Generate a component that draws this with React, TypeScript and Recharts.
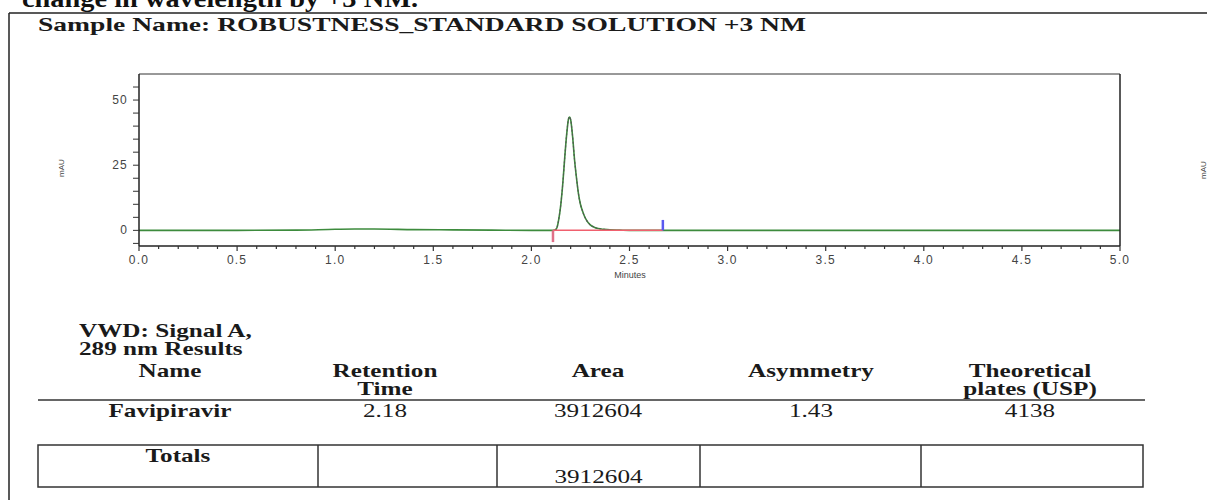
import { ComposedChart, Line, XAxis, YAxis, ReferenceLine } from 'recharts';

const headingTail = 'change in wavelength by +3 NM.';
const sampleTitle = 'Sample Name: ROBUSTNESS_STANDARD SOLUTION +3 NM';

// VWD signal A trace, minutes vs mAU
const minutes = [
  0, 0.5, 0.8, 1.0, 1.1, 1.2, 1.4, 1.6, 1.8, 2.0, 2.1, 2.12, 2.13, 2.14, 2.15,
  2.16, 2.17, 2.18, 2.19, 2.195, 2.2, 2.21, 2.22, 2.23, 2.24, 2.25, 2.26, 2.27,
  2.28, 2.29, 2.3, 2.32, 2.34, 2.37, 2.4, 2.45, 2.5, 3.0, 4.0, 5.0,
];
const absorbance = [
  0, 0, 0.1, 0.4, 0.5, 0.5, 0.3, 0.2, 0.1, 0, 0, 0.1, 1.0, 4.5, 10,
  18, 28, 37, 43, 43.5, 42.5, 36, 27, 20, 14, 10, 7.5, 5.5,
  4.0, 2.9, 2.1, 1.2, 0.7, 0.4, 0.2, 0.1, 0, 0, 0, 0,
];

// integration events (minutes) and marker extents (mAU)
const peakStart = 2.11;
const peakEnd = 2.67;
const startMarkDepth = -4.5;
const endMarkHeight = 4;

const xLabels = ['0.0', '0.5', '1.0', '1.5', '2.0', '2.5', '3.0', '3.5', '4.0', '4.5', '5.0'];
const yLabels = ['0', '25', '50'];

const signalLines = ['VWD: Signal A,', '289 nm Results'];
const headerLines = [['Name'], ['Retention', 'Time'], ['Area'], ['Asymmetry'], ['Theoretical', 'plates (USP)']];
const resultRow = ['Favipiravir', '2.18', '3912604', '1.43', '4138'];
const totalsRow = ['Totals', '', '3912604', '', ''];

const trace = minutes.map((t, i) => ({
  t,
  mau: absorbance[i],
  peak: t >= 2.11 && t <= 2.42 ? absorbance[i] : null,
}));

const xTicks = Array.from({ length: 51 }, (_, i) => i / 10);
const yTicks = Array.from({ length: 13 }, (_, i) => -5 + i * 5);

const W = 1207;
const H = 500;
const serif = "'Liberation Serif', 'Times New Roman', serif";
const sans = "'Liberation Sans', Arial, sans-serif";

const colCenters = [170, 385, 598, 811, 1030];
const totalsEdges = [38, 318, 497, 700, 921, 1143];

function XTick(props: any) {
  const { x, y, payload } = props;
  const v = payload.value as number;
  const label = xLabels.find((l) => Math.abs(parseFloat(l) - v) < 1e-6);
  return (
    <g>
      <line x1={x} x2={x} y1={y} y2={y + (label ? 5 : 3)} stroke="#333" strokeWidth={1.2} />
      {label && (
        <text x={x} y={y + 18} textAnchor="middle" fontFamily={sans} fontSize={12} letterSpacing={1.2} fill="#444">
          {label}
        </text>
      )}
    </g>
  );
}

function YTick(props: any) {
  const { x, y, payload, side } = props;
  const v = String(payload.value);
  const dir = side === 'left' ? -1 : 1;
  const show = yLabels.includes(v);
  return (
    <g>
      <line x1={x} x2={x + dir * 6} y1={y} y2={y} stroke="#333" strokeWidth={1} />
      {show && (
        <text
          x={x + dir * 11}
          y={y + 4}
          textAnchor={side === 'left' ? 'end' : 'start'}
          fontFamily={sans}
          fontSize={12}
          letterSpacing={1.2}
          fill="#444"
        >
          {v}
        </text>
      )}
    </g>
  );
}

function Wide({ x, y, children, bold = true, sx = 1.4, size = 18, anchor = 'middle' }: any) {
  return (
    <text
      transform={`translate(${x} ${y}) scale(${sx} 1)`}
      textAnchor={anchor}
      fontFamily={serif}
      fontWeight={bold ? 'bold' : 'normal'}
      fontSize={size}
      fill="#1a1a1a"
    >
      {children}
    </text>
  );
}

export default function App() {
  return (
    <div style={{ position: 'absolute', left: 0, top: 0, width: W, height: H, background: '#fff', overflow: 'hidden' }}>
      <ComposedChart
        width={W}
        height={300}
        data={trace}
        margin={{ top: 74, right: 0, left: 0, bottom: 24 }}
      >
        <XAxis
          dataKey="t"
          type="number"
          domain={[0, 5]}
          ticks={xTicks}
          interval={0}
          tickSize={0}
          tickMargin={0}
          tickLine={false}
          tick={<XTick />}
          height={30}
          axisLine={{ stroke: '#222', strokeWidth: 1.5 }}
        />
        <YAxis
          yAxisId="l"
          domain={[-6, 60]}
          ticks={yTicks}
          interval={0}
          width={139}
          tickSize={0}
          tickMargin={0}
          tickLine={false}
          tick={<YTick side="left" />}
          axisLine={{ stroke: '#222', strokeWidth: 1.5 }}
        />
        <YAxis
          yAxisId="r"
          orientation="right"
          domain={[-6, 60]}
          ticks={yTicks}
          interval={0}
          width={87}
          tickSize={0}
          tickMargin={0}
          tickLine={false}
          tick={<YTick side="right" />}
          axisLine={{ stroke: '#222', strokeWidth: 1.5 }}
        />
        <ReferenceLine yAxisId="l" y={60} stroke="#333" strokeWidth={1} />
        <Line
          yAxisId="l"
          type="monotone"
          dataKey="mau"
          stroke="#3d8b3d"
          strokeWidth={1.6}
          dot={false}
          isAnimationActive={false}
        />
        <Line
          yAxisId="l"
          type="monotone"
          dataKey="peak"
          stroke="#555"
          strokeWidth={1.1}
          strokeDasharray="2 2"
          dot={false}
          connectNulls={false}
          isAnimationActive={false}
        />
        <ReferenceLine
          yAxisId="l"
          segment={[{ x: peakStart, y: 0 }, { x: peakEnd, y: 0 }]}
          stroke="#f0606e"
          strokeWidth={1.5}
        />
        <ReferenceLine
          yAxisId="l"
          segment={[{ x: peakStart, y: 0 }, { x: peakStart, y: startMarkDepth }]}
          stroke="#e07088"
          strokeWidth={2.5}
        />
        <ReferenceLine
          yAxisId="l"
          segment={[{ x: peakEnd, y: 0 }, { x: peakEnd, y: endMarkHeight }]}
          stroke="#5a5af0"
          strokeWidth={2.5}
        />
      </ComposedChart>

      <svg width={W} height={H} style={{ position: 'absolute', left: 0, top: 0, pointerEvents: 'none' }}>
        <text
          x={22}
          y={7}
          textLength={396}
          lengthAdjust="spacingAndGlyphs"
          fontFamily={serif}
          fontWeight="bold"
          fontSize={26}
          fill="#111"
        >
          {headingTail}
        </text>
        <line x1={9} x2={W} y1={13} y2={13} stroke="#222" strokeWidth={1.5} />
        <line x1={9} x2={9} y1={13} y2={H} stroke="#222" strokeWidth={1.5} />
        <text
          x={38}
          y={31}
          textLength={768}
          lengthAdjust="spacingAndGlyphs"
          fontFamily={serif}
          fontWeight="bold"
          fontSize={19}
          fill="#1a1a1a"
        >
          {sampleTitle}
        </text>

        <text transform="translate(64 168) rotate(-90)" textAnchor="middle" fontFamily={sans} fontSize={8} fill="#444">
          mAU
        </text>
        <text transform="translate(1206 170) rotate(-90)" textAnchor="middle" fontFamily={sans} fontSize={8} fill="#444">
          mAU
        </text>
        <text x={630} y={278} textAnchor="middle" fontFamily={sans} fontSize={9} fill="#444">
          Minutes
        </text>

        {signalLines.map((s, i) => (
          <Wide key={s} x={79} y={337 + i * 18} anchor="start">
            {s}
          </Wide>
        ))}
        {headerLines.map((lines, c) =>
          lines.map((s, i) => (
            <Wide key={s} x={colCenters[c]} y={377 + i * 18}>
              {s}
            </Wide>
          )),
        )}
        <line x1={38} x2={1145} y1={400} y2={400} stroke="#333" strokeWidth={1.3} />
        {resultRow.map((s, c) => (
          <Wide key={c} x={colCenters[c]} y={417} bold={c === 0}>
            {s}
          </Wide>
        ))}

        <rect
          x={totalsEdges[0]}
          y={445}
          width={totalsEdges[5] - totalsEdges[0]}
          height={42}
          fill="none"
          stroke="#333"
          strokeWidth={1.5}
        />
        {totalsEdges.slice(1, 5).map((x) => (
          <line key={x} x1={x} x2={x} y1={445} y2={487} stroke="#333" strokeWidth={1.5} />
        ))}
        <Wide x={(totalsEdges[0] + totalsEdges[1]) / 2} y={462}>
          {totalsRow[0]}
        </Wide>
        <Wide x={(totalsEdges[2] + totalsEdges[3]) / 2} y={483} bold={false}>
          {totalsRow[2]}
        </Wide>
      </svg>
    </div>
  );
}
